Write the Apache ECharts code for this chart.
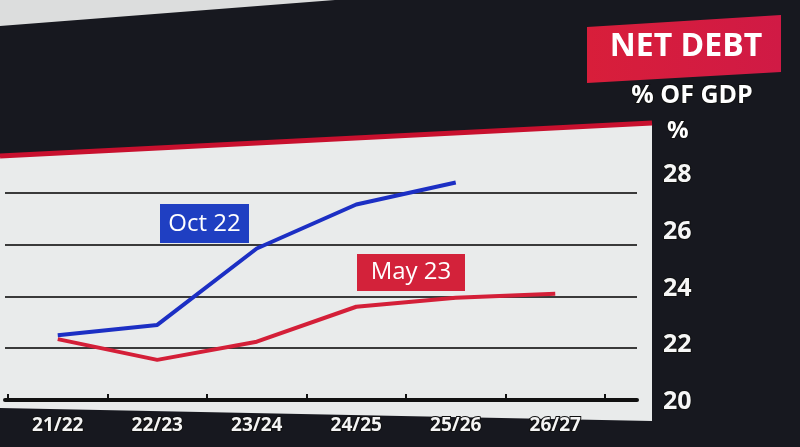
<!DOCTYPE html>
<html><head><meta charset="utf-8">
<script src="https://cdn.jsdelivr.net/npm/echarts@6/dist/echarts.min.js"></script>
<style>html,body{margin:0;padding:0;background:#16161e}#c{width:800px;height:447px}</style>
</head><body><div id="c"></div>
<script>
const categories = ['21/22','22/23','23/24','24/25','25/26','26/27'];
const oct22 = [22.5, 22.9, 25.85, 27.55, 28.4, null];
const may23 = [22.35, 21.55, 22.25, 23.6, 23.95, 24.1];
const yTicks = [20, 22, 24, 26, 28];
const title = 'NET DEBT';
const subtitle = '% OF GDP';
const unit = '%';

const FONT = "'Open Sans', 'Noto Sans', sans-serif";
const chart = echarts.init(document.getElementById('c'), null, {renderer:'canvas'});
const gridColor = '#3a3a3a';
chart.setOption({
  backgroundColor: '#17181f',
  animation: false,
  grid: [
    {left: 5, right: 163, top: 141, bottom: 47},
    {left: 8, right: 195, top: 141, bottom: 47},
    {left: 600, right: 145, top: 175, bottom: 45}
  ],
  xAxis: [
    {gridIndex: 0, type: 'category', data: [''], axisLine: {show: true, lineStyle: {color: '#111', width: 4}},
     axisTick: {show: false}, axisLabel: {show: false}},
    {gridIndex: 1, type: 'category', data: categories, boundaryGap: true,
     axisLine: {show: false},
     axisTick: {show: true, inside: true, length: 6, lineStyle: {color: '#111', width: 2}},
     axisLabel: {color: '#f4f4f4', fontSize: 19, fontWeight: 'bold', fontFamily: FONT, margin: 16,
                 textBorderColor: '#111', textBorderWidth: 2}},
    {gridIndex: 2, type: 'category', data: [''], show: false}
  ],
  yAxis: [
    {gridIndex: 0, type: 'value', min: 20, max: 30, interval: 2,
     axisLine: {show: false}, axisTick: {show: false}, axisLabel: {show: false},
     splitLine: {show: true, lineStyle: {color: ['transparent', gridColor, gridColor, gridColor, gridColor, 'transparent'], width: 2}}},
    {gridIndex: 1, type: 'value', min: 20, max: 30, show: false},
    {gridIndex: 2, type: 'value', min: yTicks[0], max: yTicks[yTicks.length-1], interval: 2, position: 'right',
     axisLine: {show: false}, axisTick: {show: false}, splitLine: {show: false},
     axisLabel: {color: '#f6f6f6', fontSize: 25, fontWeight: 'bold', fontFamily: FONT, margin: 8,
                 textBorderColor: '#111', textBorderWidth: 2}}
  ],
  series: [
    {name: 'Oct 22', type: 'line', xAxisIndex: 1, yAxisIndex: 1, data: oct22, showSymbol: false,
     lineStyle: {color: '#1c2fc4', width: 4}, z: 5},
    {name: 'May 23', type: 'line', xAxisIndex: 1, yAxisIndex: 1, data: may23, showSymbol: false,
     lineStyle: {color: '#d41f38', width: 4}, z: 4}
  ],
  graphic: {elements: [
    {type: 'polygon', z: -100, shape: {points: [[0,0],[335,0],[0,26]]}, style: {fill: '#dcdddd'}},
    {type: 'polygon', z: -90, shape: {points: [[0,157],[652,124],[652,421],[0,408]]}, style: {fill: '#e9ebeb'}},
    {type: 'polyline', z: -80, shape: {points: [[0,156],[652,123]]}, style: {stroke: '#c8102e', lineWidth: 5}},
    {type: 'polygon', z: 50, shape: {points: [[587,27],[781,15],[781,72],[587,83]]},
     style: {fill: new echarts.graphic.LinearGradient(0,0,1,0,[{offset:0,color:'#d81e3a'},{offset:1,color:'#d01a45'}])}},
    {type: 'text', z: 60, x: 686, y: 47, style: {text: title, fill: '#fff', font: "bold 32px " + FONT, align: 'center', verticalAlign: 'middle'}},
    {type: 'text', z: 60, x: 692, y: 96, style: {text: subtitle, fill: '#fff', font: "bold 25px " + FONT, align: 'center', verticalAlign: 'middle', stroke: '#111', lineWidth: 2}},
    {type: 'text', z: 60, x: 667, y: 131, style: {text: unit, fill: '#fff', font: "bold 24px " + FONT, align: 'left', verticalAlign: 'middle', stroke: '#111', lineWidth: 2}},
    {type: 'rect', z: 60, shape: {x: 160, y: 204, width: 89, height: 39}, style: {fill: '#1f3fc2'}},
    {type: 'text', z: 61, x: 204.5, y: 224, style: {text: 'Oct 22', fill: '#fff', font: "24px " + FONT, align: 'center', verticalAlign: 'middle'}},
    {type: 'rect', z: 60, shape: {x: 357, y: 254, width: 108, height: 37}, style: {fill: '#d3223a'}},
    {type: 'text', z: 61, x: 411, y: 272, style: {text: 'May 23', fill: '#fff', font: "24px " + FONT, align: 'center', verticalAlign: 'middle'}}
  ]}
});
</script></body></html>
